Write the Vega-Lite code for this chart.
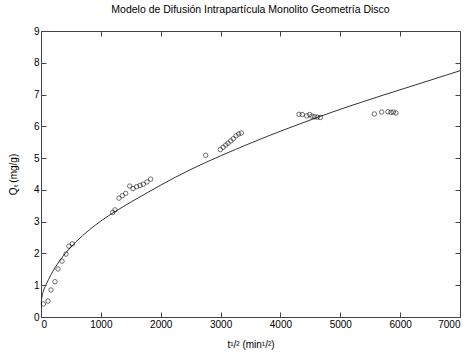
{
  "$schema": "https://vega.github.io/schema/vega-lite/v6.json",
  "width": 419,
  "height": 286,
  "autosize": {"type": "none"},
  "padding": {"left": 41, "top": 31, "right": 8, "bottom": 35},
  "background": "white",
  "config": {
    "font": "Liberation Sans",
    "view": {"stroke": "#444", "strokeWidth": 1},
    "axis": {"grid": false, "domain": false, "tickColor": "#444", "labelColor": "#000", "labelFontSize": 10, "titleFontSize": 10, "titleFontWeight": "normal", "titleColor": "#000", "tickSize": -5, "labelFont": "Liberation Sans", "titleFont": "Liberation Sans"}
  },
  "title": {"text": "Modelo de Difusión Intrapartícula Monolito Geometría Disco", "fontSize": 10.5, "fontWeight": "normal", "font": "Liberation Sans", "color": "#000", "offset": 11, "anchor": "middle"},
  "datasets": {
    "pts": [
      {"x": 39, "q": 0.41}, {"x": 117, "q": 0.50}, {"x": 167, "q": 0.85}, {"x": 234, "q": 1.11}, {"x": 284, "q": 1.51}, {"x": 351, "q": 1.76}, {"x": 418, "q": 1.98}, {"x": 468, "q": 2.23}, {"x": 523, "q": 2.30},
      {"x": 1197, "q": 3.29}, {"x": 1236, "q": 3.37}, {"x": 1303, "q": 3.74}, {"x": 1359, "q": 3.82}, {"x": 1415, "q": 3.89}, {"x": 1482, "q": 4.12}, {"x": 1537, "q": 4.04}, {"x": 1598, "q": 4.10}, {"x": 1654, "q": 4.14}, {"x": 1709, "q": 4.18}, {"x": 1771, "q": 4.25}, {"x": 1833, "q": 4.34},
      {"x": 2751, "q": 5.09}, {"x": 2996, "q": 5.27}, {"x": 3042, "q": 5.34}, {"x": 3087, "q": 5.41}, {"x": 3124, "q": 5.47}, {"x": 3169, "q": 5.54}, {"x": 3213, "q": 5.61}, {"x": 3258, "q": 5.70}, {"x": 3303, "q": 5.76}, {"x": 3347, "q": 5.79},
      {"x": 4310, "q": 6.38}, {"x": 4365, "q": 6.37}, {"x": 4439, "q": 6.33}, {"x": 4489, "q": 6.37}, {"x": 4527, "q": 6.32}, {"x": 4573, "q": 6.30}, {"x": 4617, "q": 6.29}, {"x": 4666, "q": 6.28},
      {"x": 5569, "q": 6.39}, {"x": 5692, "q": 6.45}, {"x": 5797, "q": 6.46}, {"x": 5847, "q": 6.44}, {"x": 5886, "q": 6.45}, {"x": 5930, "q": 6.42}
    ],
    "curve": [
      {"x": 0, "q": 0.3}, {"x": 5, "q": 0.48}, {"x": 15, "q": 0.62}, {"x": 40, "q": 0.82}, {"x": 80, "q": 1.0}, {"x": 167, "q": 1.33}, {"x": 234, "q": 1.55}, {"x": 300, "q": 1.74}, {"x": 418, "q": 2.03}, {"x": 585, "q": 2.37}, {"x": 807, "q": 2.74}, {"x": 1000, "q": 3.02}, {"x": 1300, "q": 3.39}, {"x": 1737, "q": 3.87}, {"x": 2000, "q": 4.15}, {"x": 2489, "q": 4.63}, {"x": 3000, "q": 5.07}, {"x": 3500, "q": 5.47}, {"x": 3826, "q": 5.72}, {"x": 4160, "q": 5.96}, {"x": 4600, "q": 6.27}, {"x": 5162, "q": 6.64}, {"x": 5664, "q": 6.95}, {"x": 6300, "q": 7.33}, {"x": 7000, "q": 7.75}
    ]
  },
  "layer": [
    {
      "data": {"name": "curve"},
      "mark": {"type": "line", "color": "#333", "strokeWidth": 1, "interpolate": "monotone", "clip": true},
      "encoding": {
        "x": {"field": "x", "type": "quantitative", "scale": {"domain": [0, 7000], "nice": false}, "axis": {"orient": "bottom", "values": [0, 1000, 2000, 3000, 4000, 5000, 6000, 7000], "title": "t¹/² (min¹/²)", "labelPadding": 7, "titlePadding": 10, "format": "d"}},
        "y": {"field": "q", "type": "quantitative", "scale": {"domain": [0, 9], "nice": false}, "axis": {"orient": "left", "values": [0, 1, 2, 3, 4, 5, 6, 7, 8, 9], "title": "Qₜ (mg/g)", "labelPadding": 7, "titlePadding": 15}}
      }
    },
    {
      "data": {"name": "pts"},
      "mark": {"type": "point", "shape": "circle", "filled": false, "color": "#000", "size": 20, "strokeWidth": 0.8},
      "encoding": {
        "x": {"field": "x", "type": "quantitative", "axis": {"orient": "top", "values": [0, 1000, 2000, 3000, 4000, 5000, 6000, 7000], "labels": false, "title": null}},
        "y": {"field": "q", "type": "quantitative", "axis": {"orient": "right", "values": [0, 1, 2, 3, 4, 5, 6, 7, 8, 9], "labels": false, "title": null}}
      }
    }
  ],
  "resolve": {"axis": {"x": "independent", "y": "independent"}}
}
